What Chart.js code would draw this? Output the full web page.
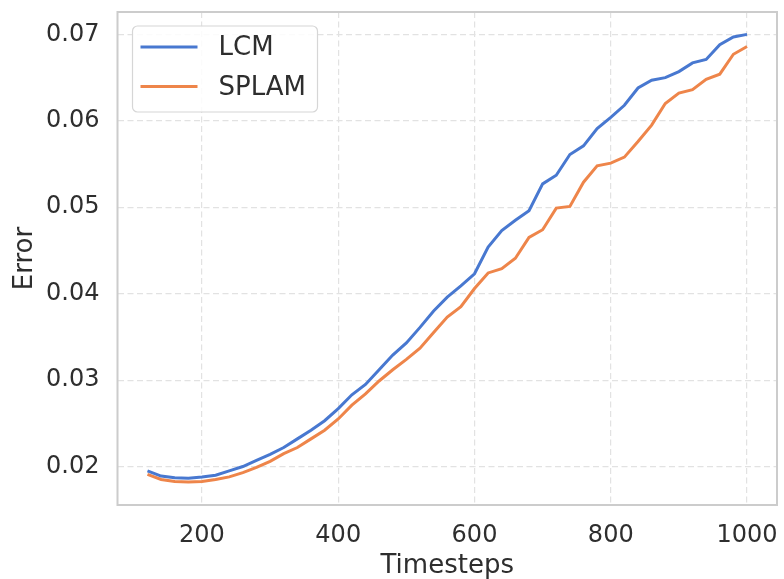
<!DOCTYPE html>
<html>
<head>
<meta charset="utf-8">
<script src="https://cdn.jsdelivr.net/npm/chart.js@4.4.1/dist/chart.umd.min.js"></script>
<style>
  html, body { margin: 0; padding: 0; background: #fff; }
  #wrap { width: 784px; height: 579px; position: relative; }
</style>
</head>
<body>
<div id="wrap"><canvas id="chart1"></canvas></div>
<script>
// timesteps en fout per methode
const timesteps = [120, 140, 160, 180, 200, 220, 240, 260, 280, 300,
  320, 340, 360, 380, 400, 420, 440, 460, 480, 500,
  520, 540, 560, 580, 600, 620, 640, 660, 680, 700,
  720, 740, 760, 780, 800, 820, 840, 860, 880, 900,
  920, 940, 960, 980, 1000];

const lcm = [0.0195, 0.0189, 0.0187, 0.01865, 0.0188, 0.0190, 0.0195, 0.0200, 0.0207, 0.0214,
  0.0222, 0.0232, 0.0242, 0.0253, 0.0267, 0.0283, 0.0295, 0.0312, 0.0329, 0.0343,
  0.0361, 0.0380, 0.0396, 0.0409, 0.0423, 0.0454, 0.0473, 0.0485, 0.0496, 0.0527,
  0.0537, 0.0561, 0.0571, 0.0591, 0.0604, 0.0618, 0.0638, 0.0647, 0.0650, 0.0657,
  0.0667, 0.0671, 0.0688, 0.0697, 0.0700];

const splam = [0.0191, 0.0185, 0.01826, 0.0182, 0.01826, 0.0185, 0.0188, 0.0193, 0.0199, 0.0206,
  0.0215, 0.0222, 0.0232, 0.0242, 0.0255, 0.0271, 0.0284, 0.0299, 0.0312, 0.0324,
  0.0337, 0.0355, 0.0373, 0.0385, 0.0406, 0.0424, 0.0429, 0.0441, 0.0465, 0.0474,
  0.0499, 0.0501, 0.0529, 0.0548, 0.0551, 0.0558, 0.0576, 0.0595, 0.0620, 0.0632,
  0.0636, 0.0648, 0.0654, 0.0677, 0.0686];

// tick labels
const xTicks = [200, 400, 600, 800, 1000];
const yTicks = [0.02, 0.03, 0.04, 0.05, 0.06, 0.07];

const seriesNames = ['LCM', 'SPLAM'];
const seriesColors = ['#4878d0', '#ee854a'];

const textColor = '#2e2e2e';
const fontFamily = "'DejaVu Sans', sans-serif";

function toPoints(ys) {
  return timesteps.map((t, i) => ({ x: t, y: ys[i] }));
}

// legenda en kader binnen het plotvlak
const framePlugin = {
  id: 'frameAndLegend',
  afterDraw(chart) {
    const ctx = chart.ctx;
    const a = chart.chartArea;
    ctx.save();
    ctx.strokeStyle = '#cccccc';
    ctx.lineWidth = 2;
    ctx.strokeRect(a.left, a.top, a.right - a.left, a.bottom - a.top);

    const bx = a.left + 15, by = a.top + 14, bw = 185, bh = 86;
    ctx.beginPath();
    ctx.roundRect(bx, by, bw, bh, 5);
    ctx.fillStyle = 'rgba(255,255,255,0.85)';
    ctx.fill();
    ctx.strokeStyle = '#d6d6d6';
    ctx.lineWidth = 1.2;
    ctx.stroke();

    ctx.font = '26px ' + fontFamily;
    ctx.textBaseline = 'middle';
    ctx.textAlign = 'left';
    chart.data.datasets.forEach((ds, i) => {
      const y = by + 21 + i * 39.5;
      ctx.strokeStyle = ds.borderColor;
      ctx.lineWidth = 3;
      ctx.beginPath();
      ctx.moveTo(bx + 8, y);
      ctx.lineTo(bx + 65, y);
      ctx.stroke();
      ctx.fillStyle = textColor;
      ctx.fillText(ds.label, bx + 86, y + 1.5);
    });
    ctx.restore();
  }
};

const data1 = {
  datasets: [
    {
      label: seriesNames[0],
      data: toPoints(lcm),
      borderColor: seriesColors[0],
      borderWidth: 3,
      pointRadius: 0,
      tension: 0,
    },
    {
      label: seriesNames[1],
      data: toPoints(splam),
      borderColor: seriesColors[1],
      borderWidth: 3,
      pointRadius: 0,
      tension: 0,
    }
  ]
};

const config1 = {
  type: 'line',
  data: data1,
  options: {
    responsive: true,
    maintainAspectRatio: false,
    animation: false,
    layout: { padding: { left: 0, right: 7, top: 12, bottom: 0 } },
    plugins: {
      legend: { display: false },
      tooltip: { enabled: false }
    },
    scales: {
      x: {
        type: 'linear',
        min: 76,
        max: 1044,
        afterBuildTicks: (scale) => { scale.ticks = xTicks.map(v => ({ value: v })); },
        afterFit: (scale) => {
          scale.height = 74;
          scale.paddingLeft = 0;
          scale.paddingRight = 0;
        },
        ticks: {
          maxRotation: 0,
          padding: 16,
          color: textColor,
          font: { family: fontFamily, size: 24 },
          callback: (v) => String(v)
        },
        grid: { color: '#e2e2e2', lineWidth: 1.2, drawTicks: false },
        border: { display: false, dash: [6, 3.5] },
        title: {
          display: true,
          text: 'Timesteps',
          color: textColor,
          padding: 0,
          font: { family: fontFamily, size: 26, lineHeight: 1 }
        }
      },
      y: {
        min: 0.01555,
        max: 0.07259,
        afterBuildTicks: (scale) => { scale.ticks = yTicks.map(v => ({ value: v })); },
        afterFit: (scale) => {
          scale.width = 117.5;
          scale.paddingTop = 0;
          scale.paddingBottom = 0;
        },
        ticks: {
          padding: 18,
          color: textColor,
          font: { family: fontFamily, size: 24 },
          callback: (v) => v.toFixed(2)
        },
        grid: { color: '#e2e2e2', lineWidth: 1.2, drawTicks: false },
        border: { display: false, dash: [6, 3.5] },
        title: {
          display: true,
          text: 'Error',
          color: textColor,
          padding: { top: 12, bottom: 0 },
          font: { family: fontFamily, size: 26, lineHeight: 1 }
        }
      }
    }
  },
  plugins: [framePlugin]
};

const myChart1 = new Chart(document.getElementById('chart1'), config1);
</script>
</body>
</html>
